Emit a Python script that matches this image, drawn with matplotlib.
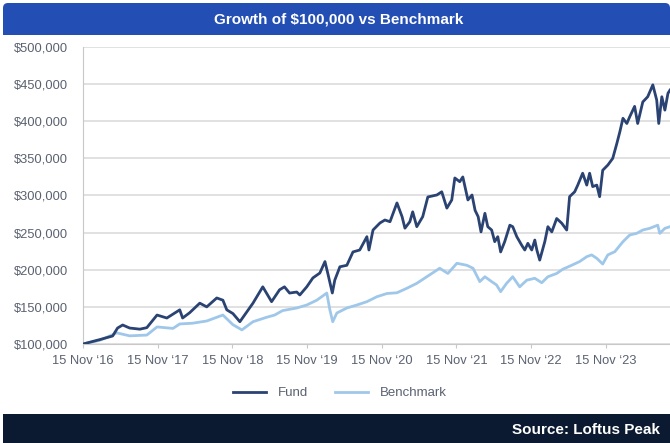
import pandas as pd
import matplotlib.pyplot as plt
import matplotlib.ticker as mticker
from matplotlib.patches import FancyBboxPatch, Rectangle

plt.rcParams['font.family'] = ['Liberation Sans', 'DejaVu Sans']

# values, in $ thousands
fund_dates = [
    '2016-11-15', '2017-02-06', '2017-04-09', '2017-05-03', '2017-05-28', '2017-07-01',
    '2017-08-20', '2017-09-23', '2017-11-12', '2017-12-30', '2018-03-03', '2018-03-17',
    '2018-04-20', '2018-06-09', '2018-07-13', '2018-08-31', '2018-09-30', '2018-10-19',
    '2018-11-18', '2018-12-22', '2019-02-24', '2019-04-13', '2019-05-26', '2019-07-04',
    '2019-07-28', '2019-08-22', '2019-09-26', '2019-10-11', '2019-11-14', '2019-12-14',
    '2020-01-17', '2020-02-11', '2020-02-25', '2020-03-18', '2020-03-30', '2020-04-24',
    '2020-05-28', '2020-06-27', '2020-07-30', '2020-09-03', '2020-09-13', '2020-10-03',
    '2020-11-06', '2020-11-30', '2020-12-25', '2021-01-28', '2021-02-22', '2021-03-08',
    '2021-04-01', '2021-04-15', '2021-05-05', '2021-06-03', '2021-06-28', '2021-08-11',
    '2021-09-04', '2021-09-29', '2021-10-23', '2021-11-07', '2021-12-01', '2021-12-16',
    '2022-01-10', '2022-01-30', '2022-02-14', '2022-03-01', '2022-03-15', '2022-04-03',
    '2022-04-17', '2022-05-06', '2022-05-21', '2022-06-05', '2022-06-19', '2022-07-09',
    '2022-08-03', '2022-08-17', '2022-09-06', '2022-09-30', '2022-10-15', '2022-10-30',
    '2022-11-18', '2022-12-03', '2022-12-13', '2022-12-27', '2023-01-21', '2023-02-05',
    '2023-02-24', '2023-03-20', '2023-04-14', '2023-05-08', '2023-05-22', '2023-06-16',
    '2023-07-01', '2023-07-25', '2023-08-14', '2023-08-28', '2023-09-12', '2023-10-02',
    '2023-10-16', '2023-10-31', '2023-11-25', '2023-12-19', '2024-01-08', '2024-01-23',
    '2024-02-07', '2024-02-26', '2024-03-11', '2024-04-04', '2024-04-19', '2024-05-14',
    '2024-06-07', '2024-07-02', '2024-07-21', '2024-07-31', '2024-08-15', '2024-08-30',
    '2024-09-14', '2024-09-24',
]
fund_values = [
    100, 106, 110.8, 121.5, 125.6, 121.5,
    120, 122, 139, 135, 146, 135,
    142, 155, 150, 162, 159, 146,
    141, 130, 155, 177, 157, 173,
    177, 168.6, 170, 166, 177, 189,
    195.6, 211, 195, 168.7, 186, 204,
    206, 224, 226.6, 244.5, 226.6, 253.5,
    263, 267, 264.7, 290, 271.5, 256,
    264.7, 278, 258, 271.5, 298, 300.7,
    305, 283, 294, 323.6, 318.6, 325,
    294, 300.7, 280, 271.5, 251, 276,
    258, 253.5, 237.8, 244.5, 224, 238,
    260, 258, 244.5, 233, 226.6, 235.6,
    226.6, 240, 226.6, 213, 238, 258,
    251, 269, 262.6, 253.5, 298.4, 305,
    314, 330, 314, 330, 312, 314,
    298.4, 334, 341, 350, 370, 386,
    404, 397, 406, 420, 397, 426,
    433, 449, 428.6, 397, 433, 415,
    437.6, 442,
]

bench_dates = [
    '2016-11-15', '2017-02-06', '2017-04-29', '2017-07-01', '2017-09-23', '2017-11-12',
    '2018-01-29', '2018-03-03', '2018-05-05', '2018-07-13', '2018-09-30', '2018-11-18',
    '2019-01-01', '2019-02-24', '2019-05-02', '2019-06-10', '2019-07-19', '2019-09-26',
    '2019-11-14', '2020-01-02', '2020-02-20', '2020-03-06', '2020-03-20', '2020-04-09',
    '2020-05-28', '2020-07-16', '2020-09-03', '2020-10-22', '2020-12-10', '2021-01-28',
    '2021-03-17', '2021-05-05', '2021-06-23', '2021-08-25', '2021-10-04', '2021-11-17',
    '2022-01-05', '2022-02-04', '2022-03-09', '2022-04-03', '2022-05-06', '2022-05-30',
    '2022-06-19', '2022-07-18', '2022-08-17', '2022-09-20', '2022-10-25', '2022-12-03',
    '2023-01-06', '2023-02-05', '2023-03-20', '2023-04-18', '2023-06-01', '2023-07-10',
    '2023-08-14', '2023-09-07', '2023-10-02', '2023-10-31', '2023-11-25', '2023-12-29',
    '2024-02-07', '2024-03-11', '2024-04-14', '2024-05-14', '2024-06-17', '2024-07-26',
    '2024-08-05', '2024-08-30', '2024-09-24',
]
bench_values = [
    100, 105, 115, 111, 112, 123,
    121, 127, 128, 131, 139, 126,
    119, 130, 136, 139, 145, 148.5,
    152.5, 159, 168.6, 146, 130, 141.7,
    148.5, 152.5, 157, 163.7, 168, 169,
    175, 181.7, 190.6, 202, 195, 208.7,
    206, 202, 184, 190.6, 184, 179.5,
    170.5, 181.7, 190.6, 177, 186, 188.5,
    182.5, 190.6, 195, 200.6, 206, 211,
    217.6, 220, 215.4, 207.7, 220, 224.3,
    237.8, 246.8, 249, 253.5, 255.8, 260,
    249, 255.8, 258,
]

tick_dates = ['2016-11-15', '2017-11-15', '2018-11-15', '2019-11-15',
              '2020-11-15', '2021-11-15', '2022-11-15', '2023-11-15']
tick_labels = ['15 Nov \u201816', '15 Nov \u201817', '15 Nov \u201818', '15 Nov \u201819',
               '15 Nov \u201820', '15 Nov \u201821', '15 Nov \u201822', '15 Nov \u201823']

fund_x = pd.to_datetime(fund_dates)
fund_y = [v * 1000 for v in fund_values]
bench_x = pd.to_datetime(bench_dates)
bench_y = [v * 1000 for v in bench_values]

fig = plt.figure(figsize=(6.7, 4.43), dpi=100)
ax = fig.add_axes([83 / 670, 1 - 344 / 443, 1 - 83 / 670, (344 - 47) / 443])

# header and footer bars
fig.patches.append(FancyBboxPatch((0.03, 4.08), 6.67, 0.32, boxstyle='round,pad=0,rounding_size=0.05',
                                  transform=fig.dpi_scale_trans, facecolor='#234eb4', edgecolor='none'))
fig.patches.append(Rectangle((0.03, 4.08), 6.67, 0.12, transform=fig.dpi_scale_trans,
                             facecolor='#234eb4', edgecolor='none'))
fig.patches.append(Rectangle((0.03, 0.0), 6.67, 0.29, transform=fig.dpi_scale_trans,
                             facecolor='#0b1a30', edgecolor='none'))
fig.text(0.505, 1 - 19 / 443, 'Growth of $100,000 vs Benchmark', color='white', fontsize=11,
         fontweight='bold', ha='center', va='center')
fig.text(660 / 670, 1 - 430 / 443, 'Source: Loftus Peak', color='white', fontsize=11,
         fontweight='bold', ha='right', va='center')

ax.plot(bench_x, bench_y, color='#9fc7ea', lw=2.0, label='Benchmark', zorder=3)
ax.plot(fund_x, fund_y, color='#2a4372', lw=2.0, label='Fund', zorder=4)

ax.set_ylim(100000, 500000)
ax.set_xlim(pd.Timestamp('2016-11-15'), pd.Timestamp('2024-09-24'))
ax.yaxis.set_major_locator(mticker.MultipleLocator(50000))
ax.yaxis.set_major_formatter(mticker.FuncFormatter(lambda v, p: '${:,.0f}'.format(v)))
ax.set_xticks(pd.to_datetime(tick_dates))
ax.set_xticklabels(tick_labels)
ax.grid(axis='y', color='#dcdcdc', lw=1.2)
ax.set_axisbelow(True)
for s in ['top', 'right']:
    ax.spines[s].set_visible(False)
ax.spines['left'].set_color('#c8c8c8')
ax.spines['bottom'].set_color('#c8c8c8')
ax.tick_params(axis='y', length=0, pad=11, labelsize=9.3, labelcolor='#5a6170')
ax.tick_params(axis='x', length=3, color='#c8c8c8', pad=5, labelsize=9.3, labelcolor='#5a6170')

handles, labels = ax.get_legend_handles_labels()
fig.legend(handles[::-1], labels[::-1], loc='center', bbox_to_anchor=(0.507, 1 - 393 / 443), ncol=2,
           frameon=False, fontsize=9.5, labelcolor='#5a6170', handlelength=2.5, handletextpad=0.9,
           columnspacing=2.0)

fig.savefig('out.png', dpi=100)
